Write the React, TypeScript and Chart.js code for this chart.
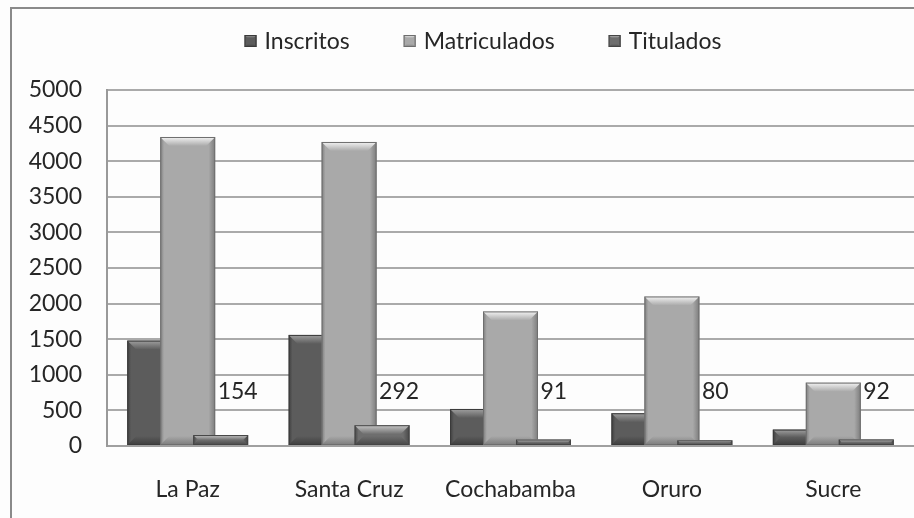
import React, { useEffect, useRef } from "react";
import { Chart, registerables } from "chart.js";

Chart.register(...registerables);

const categories = ["La Paz", "Santa Cruz", "Cochabamba", "Oruro", "Sucre"];
const seriesNames = ["Inscritos", "Matriculados", "Titulados"];
const inscritos = [1480, 1560, 520, 460, 230];
const matriculados = [4340, 4270, 1890, 2100, 890];
const titulados = [154, 292, 91, 80, 92];
const yMin = 0;
const yMax = 5000;
const yStep = 500;

const FONT = "Lato, 'Open Sans', 'DejaVu Sans', sans-serif";
const TEXT = "#262626";

type Pal = { face: string; light: string; dark: string; edge: string };
const palettes: Pal[] = [
  { face: "#5c5c5c", light: "#a0a0a0", dark: "#3e3e3e", edge: "#3a3a3a" },
  { face: "#a9a9a9", light: "#f4f4f4", dark: "#7c7c7c", edge: "#6e6e6e" },
  { face: "#6e6e6e", light: "#c8c8c8", dark: "#474747", edge: "#454545" },
];

function drawBevelBar(ctx: CanvasRenderingContext2D, left: number, right: number, top: number, bottom: number, p: Pal, bev = 9) {
  const w = right - left;
  const h = bottom - top;
  if (h <= 0 || w <= 0) return;
  const b = Math.min(bev, h / 2, w / 4);
  const g = ctx.createLinearGradient(left, 0, right, 0);
  g.addColorStop(0, p.dark);
  g.addColorStop(0.07, p.face);
  g.addColorStop(0.88, p.face);
  g.addColorStop(1, p.dark);
  ctx.fillStyle = g;
  ctx.fillRect(left, top, w, h);
  const tg = ctx.createLinearGradient(0, top, 0, top + b);
  tg.addColorStop(0, p.light);
  tg.addColorStop(1, p.face);
  ctx.beginPath();
  ctx.moveTo(left, top);
  ctx.lineTo(right, top);
  ctx.lineTo(right - b, top + b);
  ctx.lineTo(left + b, top + b);
  ctx.closePath();
  ctx.fillStyle = tg;
  ctx.fill();
  const bg = ctx.createLinearGradient(0, bottom - b, 0, bottom);
  bg.addColorStop(0, p.face);
  bg.addColorStop(1, p.dark);
  ctx.beginPath();
  ctx.moveTo(left, bottom);
  ctx.lineTo(right, bottom);
  ctx.lineTo(right - b, bottom - b);
  ctx.lineTo(left + b, bottom - b);
  ctx.closePath();
  ctx.fillStyle = bg;
  ctx.fill();
  ctx.strokeStyle = p.edge;
  ctx.lineWidth = 1;
  ctx.strokeRect(left + 0.5, top + 0.5, w - 1, h - 1);
}

const framePlugin = {
  id: "frame",
  beforeDraw(chart: any) {
    const ctx = chart.ctx as CanvasRenderingContext2D;
    ctx.save();
    ctx.fillStyle = "#fdfdfd";
    ctx.fillRect(0, 0, chart.width, chart.height);
    ctx.strokeStyle = "#8a8a8a";
    ctx.lineWidth = 2;
    ctx.strokeRect(11, 8, chart.width + 20, chart.height + 20);
    ctx.restore();
  },
};

const bevelPlugin = {
  id: "bevelBars",
  beforeDatasetsDraw(chart: any) {
    const ctx = chart.ctx as CanvasRenderingContext2D;
    ctx.save();
    chart.data.datasets.forEach((_ds: any, i: number) => {
      const meta = chart.getDatasetMeta(i);
      meta.data.forEach((el: any) => {
        const { x, y, base, width } = el.getProps(["x", "y", "base", "width"], true);
        drawBevelBar(ctx, x - width / 2, x + width / 2, Math.min(y, base), Math.max(y, base), palettes[i]);
      });
    });
    ctx.restore();
    return false;
  },
};

const labelsLegendPlugin = {
  id: "labelsLegend",
  afterDraw(chart: any) {
    const ctx = chart.ctx as CanvasRenderingContext2D;
    ctx.save();
    ctx.font = `23px ${FONT}`;
    ctx.fillStyle = TEXT;
    ctx.textBaseline = "middle";
    ctx.textAlign = "left";
    const yScale = chart.scales.y;
    const meta = chart.getDatasetMeta(2);
    meta.data.forEach((el: any, j: number) => {
      const { x } = el.getProps(["x"], true);
      ctx.fillText(String(titulados[j]), x - 3, yScale.getPixelForValue(760));
    });
    const box = 12;
    const gapText = 8;
    const gapItem = 54;
    const widths = seriesNames.map((n) => box + gapText + ctx.measureText(n).width);
    const total = widths.reduce((a, b) => a + b, 0) + gapItem * (seriesNames.length - 1);
    let lx = 483 - total / 2;
    const ly = 41;
    seriesNames.forEach((n, i) => {
      drawBevelBar(ctx, lx, lx + box, ly - box / 2, ly + box / 2, palettes[i], 3);
      ctx.fillStyle = TEXT;
      ctx.fillText(n, lx + box + gapText, ly + 1);
      lx += widths[i] + gapItem;
    });
    ctx.restore();
  },
};

export default function App() {
  const ref = useRef<HTMLCanvasElement | null>(null);
  useEffect(() => {
    if (!ref.current) return;
    const chart = new Chart(ref.current, {
      type: "bar",
      data: {
        labels: categories,
        datasets: [
          { label: seriesNames[0], data: inscritos, backgroundColor: palettes[0].face },
          { label: seriesNames[1], data: matriculados, backgroundColor: palettes[1].face },
          { label: seriesNames[2], data: titulados, backgroundColor: palettes[2].face },
        ],
      },
      options: {
        responsive: false,
        animation: false,
        events: [],
        layout: { padding: { top: 90, right: 0, bottom: 0, left: 0 } },
        datasets: {
          bar: { categoryPercentage: 0.613, barPercentage: 1.667 },
        } as any,
        plugins: {
          legend: { display: false },
          tooltip: { enabled: false },
        },
        scales: {
          x: {
            grid: { display: false, drawTicks: false },
            border: { display: true, color: "#a0a0a0", width: 2 },
            ticks: { font: { family: FONT, size: 23 }, color: TEXT, padding: 30, maxRotation: 0 },
            afterFit: (s: any) => {
              s.height = 72;
            },
          },
          y: {
            min: yMin,
            max: yMax,
            grid: { color: "#aaaaaa", lineWidth: 2, drawTicks: false },
            border: { display: true, color: "#999999", width: 2 },
            ticks: {
              stepSize: yStep,
              font: { family: FONT, size: 23 },
              color: TEXT,
              padding: 25,
              callback: (v: any) => String(v),
            },
            afterFit: (s: any) => {
              s.width = 107;
            },
          },
        },
      },
      plugins: [framePlugin, bevelPlugin, labelsLegendPlugin],
    });
    return () => chart.destroy();
  }, []);
  return (
    <div style={{ position: "absolute", left: 0, top: 0, width: 914, height: 518 }}>
      <canvas ref={ref} width={914} height={518} />
    </div>
  );
}
